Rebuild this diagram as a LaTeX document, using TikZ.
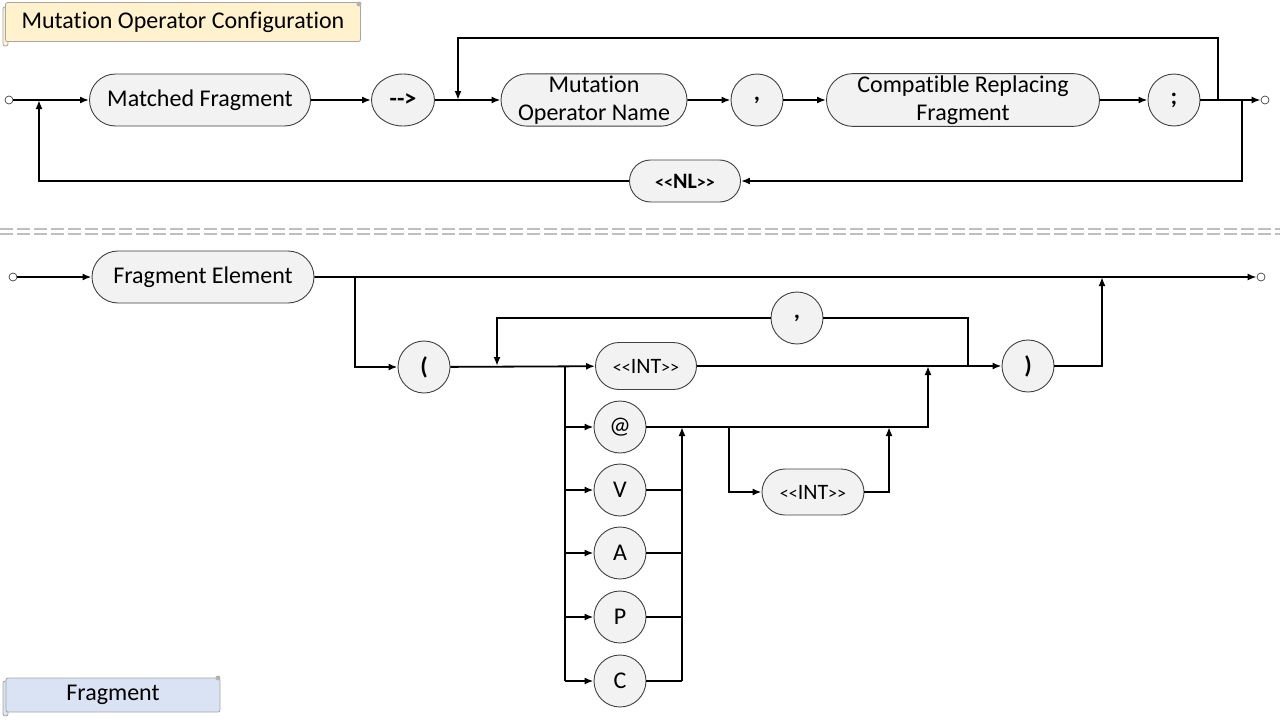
\documentclass[tikz,border=0pt]{standalone}
\usepackage{fontspec}
\setmainfont{Carlito}[Ligatures={TeX,NoCommon}]
\usetikzlibrary{arrows.meta,positioning,shapes.misc,shapes.geometric}
\definecolor{boxfill}{HTML}{F2F2F2}
\definecolor{boxline}{HTML}{404040}
\definecolor{notefill}{HTML}{FFF2CC}
\definecolor{tagfill}{HTML}{DAE3F3}
\definecolor{sepline}{HTML}{BFBFBF}
\newcommand{\chev}[1]{{\fontsize{18}{20}\selectfont#1}}

\begin{document}
\begin{tikzpicture}[x=1pt, y=-1pt,
  every node/.style={font=\fontsize{24}{28}\selectfont},
  pill/.style={rounded rectangle, draw=boxline, fill=boxfill, line width=0.9pt, minimum height=52pt, inner sep=2pt, align=center},
  term/.style={circle, draw=boxline, fill=boxfill, line width=0.9pt, minimum size=52pt, inner sep=0pt},
  dot/.style={circle, draw=boxline, line width=0.7pt, minimum size=8pt, inner sep=0pt},
  flow/.style={line width=1.8pt, -{Latex[length=9pt,width=7pt]}},
  wire/.style={line width=1.8pt},
  banner/.style={draw=gray!70, line width=0.8pt, rounded corners=2pt, inner sep=0pt},
  small/.style={font=\fontsize{22}{24}\selectfont}]
  \useasboundingbox (0,0) rectangle (1280,720);

  % configuration rule
  \draw[banner, fill=notefill] (3,7) rectangle (8,46);
  \node[banner, fill=notefill, minimum width=355pt, minimum height=39pt] (cfgtag) at (183,22) {Mutation Operator Configuration};
  \fill[gray!60] (359,4) circle (2.5);

  \node[dot] (s1) at (9,100) {};
  \node[pill, minimum width=225pt] (mf) at (200,100) {Matched Fragment};
  \node[ellipse, draw=boxline, fill=boxfill, line width=0.9pt, minimum width=63pt, minimum height=52pt, inner sep=0pt] (arr) at (403,100) {\textbf{-{}-{}>}};
  \node[pill, minimum width=190pt] (mon) at (594,100) {Mutation\\Operator Name};
  \node[term] (cm1) at (757,100) {\textbf{,}};
  \node[pill, minimum width=277pt] (crf) at (963,100) {Compatible Replacing\\Fragment};
  \node[term] (semi) at (1174,100) {\textbf{;}};
  \node[dot] (e1) at (1265,100) {};
  \node[pill, small, minimum width=115pt, minimum height=42pt] (nl) at (685,181) {\textbf{\chev{<{}<}NL\chev{>{}>}}};

  \coordinate (jA) at (1218,100);
  \coordinate (jB) at (1242,100);
  \coordinate (jC) at (458,100);
  \coordinate (jD) at (39,100);

  \draw[flow] (s1) -- (mf);
  \draw[flow] (mf) -- (arr);
  \draw[flow] (arr) -- (mon);
  \draw[flow] (mon) -- (cm1);
  \draw[flow] (cm1) -- (crf);
  \draw[flow] (crf) -- (semi);
  \draw[flow] (semi) -- (e1);
  \draw[flow] (jA) -- ++(0,-62) -| (jC);
  \draw[flow] (jB) |- (nl);
  \draw[flow] (nl) -| (jD);

  % separator
  \foreach \y in {229,234}
    \draw[sepline, line width=1.6pt, dash pattern=on 13pt off 4pt] (0,\y) -- (1280,\y);

  % fragment rule
  \node[dot] (s2) at (13,277) {};
  \node[pill, minimum width=226pt] (fe) at (203,277) {Fragment Element};
  \node[dot] (e2) at (1261,277) {};
  \node[term] (lp) at (424,367) {\textbf{(}};
  \node[pill, small, minimum width=105pt, minimum height=47pt] (int1) at (646,366) {\chev{<{}<}INT\chev{>{}>}};
  \node[term] (cm2) at (797,318) {\textbf{,}};
  \node[term] (rp) at (1028,366) {\textbf{)}};
  \foreach \n/\t/\y in {at/@/427, v/V/490, a/A/553, p/P/617, c/C/681}
    \node[term] (\n) at (620,\y) {\t};
  \node[pill, small, minimum width=106pt, minimum height=46pt] (int2) at (813,492) {\chev{<{}<}INT\chev{>{}>}};

  \coordinate (jE) at (355,277);
  \coordinate (jG) at (565,366);
  \coordinate (jI) at (968,366);
  \coordinate (jJ) at (497,366);
  \coordinate (jK) at (1102,277);
  \coordinate (jM) at (682,427);
  \coordinate (jN) at (928,366);
  \coordinate (jO) at (729,427);
  \coordinate (jP) at (889,427);

  \draw[flow] (s2) -- (fe);
  \draw[flow] (fe) -- (e2);
  \draw[flow] (jE) |- (lp);
  \draw[flow] (lp) -- (int1);
  \draw[flow] (int1) -- (rp);
  \draw[wire] (jI) |- (cm2);
  \draw[flow] (cm2) -| (jJ);
  \draw[flow] (rp) -| (jK);
  \draw[wire] (jG) -- (jG |- c);
  \foreach \n in {at,v,a,p,c}
    \draw[flow] (jG |- \n) -- (\n);
  \foreach \n in {v,a,p,c}
    \draw[wire] (\n) -- (jM |- \n);
  \draw[flow] (jM |- c) -- (jM);
  \draw[flow] (at) -| (jN);
  \draw[flow] (jO) |- (int2);
  \draw[flow] (int2) -| (jP);

  \draw[banner, fill=tagfill] (3,681) rectangle (8,716);
  \node[banner, fill=tagfill, minimum width=214pt, minimum height=34pt] (fragtag) at (113,695) {Fragment};
  \fill[gray!60] (218,678) circle (2.5);
\end{tikzpicture}
\end{document}
